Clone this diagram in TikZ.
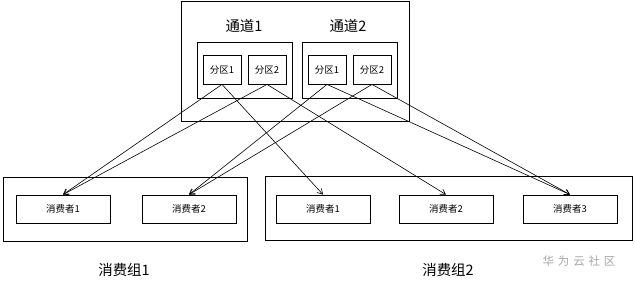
\documentclass[tikz,border=0pt]{standalone}
\usepackage{fontspec}
\newfontfamily\cjk{Noto Sans CJK SC}
\usetikzlibrary{arrows.meta}
\begin{document}
\begin{tikzpicture}[x=1bp,y=-1bp,
  box/.style={draw=black,line width=0.8bp,inner sep=0pt,rectangle},
  part/.style={box,minimum width=38bp,minimum height=29bp,font=\cjk\fontsize{9.5}{10}\selectfont},
  cons/.style={box,minimum width=94bp,minimum height=28bp,font=\cjk\fontsize{9.5}{10}\selectfont},
  title/.style={font=\cjk\fontsize{14.5}{16}\selectfont,inner sep=0pt},
  link/.style={draw=black,line width=0.6bp,-{Straight Barb[length=5bp,width=6bp]}}
]
\useasboundingbox (0,0) rectangle (635,285);
% top container
\node[box,minimum width=228bp,minimum height=120bp] (top) at (295,61) {};
\node[box,minimum width=95bp,minimum height=56bp] (ch1) at (244.5,70) {};
\node[box,minimum width=95bp,minimum height=56bp] (ch2) at (349.5,70) {};
\node[title] (t1) at (244,26) {通道1};
\node[title] (t2) at (348,26) {通道2};
\node[part] (p11) at (222,69.5) {分区1};
\node[part] (p12) at (267,69.5) {分区2};
\node[part] (p21) at (327,69.5) {分区1};
\node[part] (p22) at (372,69.5) {分区2};
% groups
\node[box,minimum width=244bp,minimum height=64bp] (g1) at (125,209) {};
\node[box,minimum width=367bp,minimum height=64bp] (g2) at (448.5,208.5) {};
\node[cons] (c11) at (63,209) {消费者1};
\node[cons] (c12) at (189,209) {消费者2};
\node[cons] (c21) at (323,209) {消费者1};
\node[cons] (c22) at (446,209) {消费者2};
\node[cons] (c23) at (570,209) {消费者3};
\node[title] (l1) at (124,270) {消费组1};
\node[title] (l2) at (448,270) {消费组2};
\node[inner sep=0pt,text=black!35,font=\cjk\fontsize{11.5}{12}\selectfont] (wm) at (579,261) {华\,\,为\,\,云\,\,社\,\,区};
% connectors
\draw[link] (p11.south) -- (c11.north);
\draw[link] (p12.south) -- (c11.north);
\draw[link] (p21.south) -- (c12.north);
\draw[link] (p22.south) -- (c12.north);
\draw[link] (p11.south) -- (c21.north);
\draw[link] (p12.south) -- (c22.north);
\draw[link] (p21.south) -- (c23.north);
\draw[link] (p22.south) -- (c23.north);
\end{tikzpicture}
\end{document}
